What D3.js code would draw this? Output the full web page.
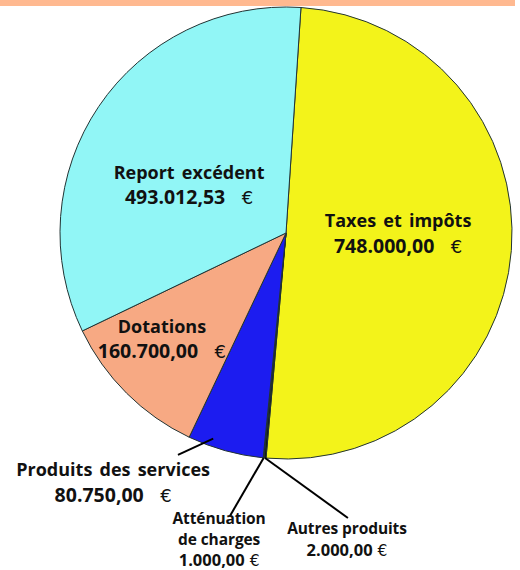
<!DOCTYPE html>
<html><head><meta charset="utf-8">
<script src="https://cdn.jsdelivr.net/npm/d3@7"></script>
<style>
html,body{margin:0;padding:0;background:#fff;}
svg{display:block;}
</style></head>
<body>
<svg id="chart" width="520" height="570"></svg>
<script>
// ---- data ----
const categories = ["Taxes et impôts", "Autres produits", "Atténuation de charges", "Produits des services", "Dotations", "Report excédent"];
const labelLines = [["Taxes et impôts"], ["Autres produits"], ["Atténuation", "de charges"], ["Produits des services"], ["Dotations"], ["Report excédent"]];
const values = [748000, 2000, 1000, 80750, 160700, 493012.53];
const colors = ["#F3F31A", "#141414", "#050505", "#1C1CF0", "#F7A983", "#91F6F6"];

// ---- layout ----
const W = 520, H = 570;
const cx = 286, cy = 233, R = 226;
const rot = 3.8 * Math.PI / 180;
const svg = d3.select("#chart");

const locale = d3.formatLocale({decimal: ",", thousands: ".", grouping: [3], currency: ["", ""]});
const fmt = locale.format(",.2f");

svg.append("rect").attr("x", 0).attr("y", 0).attr("width", 515).attr("height", 6).attr("fill", "#FFB990");

const pie = d3.pie().sort(null).value(d => d).startAngle(rot).endAngle(rot + 2 * Math.PI);
const arcs = pie(values);
const arc = d3.arc().innerRadius(0).outerRadius(R);

const g = svg.append("g").attr("transform", `translate(${cx},${cy})`);
g.selectAll("path").data(arcs).join("path")
  .attr("d", arc)
  .attr("fill", (d, i) => colors[i])
  .attr("stroke", "#223333")
  .attr("stroke-width", 1)
  .attr("stroke-linejoin", "round");

// label placement relative to pie centre (fractions of radius)
const big = {name: 18, num: 19.5, ws: 2.5, ls: 0, eur: "\u00a0\u00a0€"};
const small = {name: 15.5, num: 16.5, ws: 0, ls: -0.1, eur: "\u00a0€"};
const labelPos = [
  {dx: 0.496, dy: -0.027, st: big, lh: 26},
  {dx: 0.270, dy: 1.332, st: small, lh: 22},
  {dx: -0.296, dy: 1.287, st: small, lh: 21},
  {dx: -0.765, dy: 1.075, st: big, lh: 26},
  {dx: -0.549, dy: 0.442, st: big, lh: 25},
  {dx: -0.429, dy: -0.239, st: big, lh: 25}
];
// leader lines: start on slice (radius fraction), end relative to centre
const leaders = [
  null,
  {r: 1.0, ex: 0.274, ey: 1.261},
  {r: 1.0, ex: -0.248, ey: 1.252},
  {r: 0.965, ex: -0.478, ey: 0.982, angle: 199.5},
  null, null
];

const pt = (a, r) => [Math.sin(a) * r, -Math.cos(a) * r];

leaders.forEach((L, i) => {
  if (!L) return;
  const a = L.angle !== undefined ? L.angle * Math.PI / 180 : (arcs[i].startAngle + arcs[i].endAngle) / 2;
  const [x1, y1] = pt(a, R * L.r);
  g.append("line")
    .attr("x1", x1).attr("y1", y1)
    .attr("x2", L.ex * R).attr("y2", L.ey * R)
    .attr("stroke", "#000").attr("stroke-width", 2);
});

const font = "'Open Sans', Lato, sans-serif";
labelLines.forEach((lines, i) => {
  const p = labelPos[i];
  const st = p.st;
  const t = g.append("text")
    .attr("text-anchor", "middle")
    .attr("font-family", font)
    .attr("font-weight", "bold")
    .attr("fill", "#111");
  const all = lines.concat([fmt(values[i])]);
  all.forEach((s, k) => {
    const isNum = k === all.length - 1;
    const ts = t.append("tspan")
      .attr("x", p.dx * R)
      .attr("y", p.dy * R + k * p.lh)
      .attr("font-size", isNum ? st.num : st.name)
      .attr("word-spacing", st.ws)
      .attr("letter-spacing", isNum ? 0 : st.ls);
    ts.text(s);
    if (isNum) {
      ts.append("tspan").attr("font-weight", "normal").attr("font-family", "'DejaVu Sans', sans-serif")
        .attr("font-size", st.name)
        .text(st.eur);
    }
  });
});
</script>
</body></html>
